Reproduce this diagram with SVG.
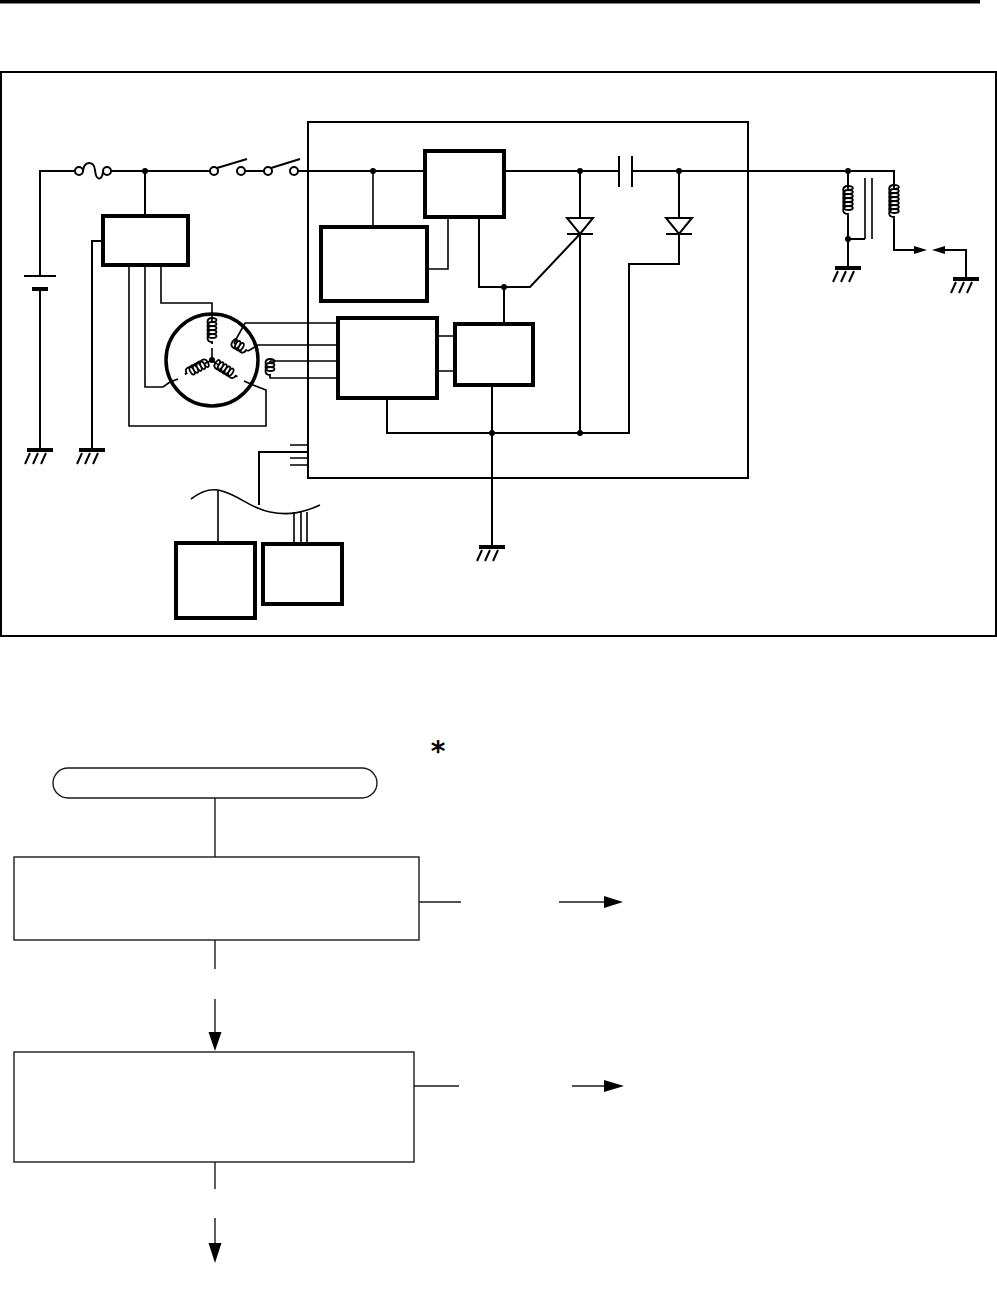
<svg xmlns="http://www.w3.org/2000/svg" xmlns:xlink="http://www.w3.org/1999/xlink" width="997" height="1293" viewBox="0 0 997 1293">
<style>
.w{fill:none;stroke:#000;stroke-width:2;stroke-linecap:butt;stroke-linejoin:miter}
.t{fill:none;stroke:#000;stroke-width:1.6}
.box{fill:#fff;stroke:#000;stroke-width:4}
.frame{fill:none;stroke:#000;stroke-width:2}
.dot{fill:#000}
.coil{fill:none;stroke:#000;stroke-width:1.8}
.fc{fill:#fff;stroke:#1a1a1a;stroke-width:1.4}
.fl{fill:none;stroke:#1a1a1a;stroke-width:1.4}
.ah{fill:#000;stroke:none}
</style>
<defs>
<path id="coilm" d="M0,0 v2 c6,0 6,-4 0,-4 c-6,0 -6,8 0,8 c6,0 6,-4 0,-4 c-6,0 -6,8 0,8 c6,0 6,-4 0,-4 c-6,0 -6,8 0,8 c6,0 6,-4 0,-4 c-6,0 -6,8 0,8 c6,0 6,-4 0,-4 c-6,0 -6,8 0,8 v2"/>
<path id="coils" d="M0,0 v2 c6,0 6,-4 0,-4 c-6,0 -6,8 0,8 c6,0 6,-4 0,-4 c-6,0 -6,8 0,8 c6,0 6,-4 0,-4 c-6,0 -6,8 0,8 v2"/>
<path id="coil6" d="M0,0 v2 c6.5,0 6.5,-4 0,-4 c-6.5,0 -6.5,8 0,8 c6.5,0 6.5,-4 0,-4 c-6.5,0 -6.5,8 0,8 c6.5,0 6.5,-4 0,-4 c-6.5,0 -6.5,8 0,8 c6.5,0 6.5,-4 0,-4 c-6.5,0 -6.5,8 0,8 c6.5,0 6.5,-4 0,-4 c-6.5,0 -6.5,8 0,8 c6.5,0 6.5,-4 0,-4 c-6.5,0 -6.5,8 0,8 v2"/>
<path id="coil7" d="M0,0 v2 c6.5,0 6.5,-4 0,-4 c-6.5,0 -6.5,8 0,8 c6.5,0 6.5,-4 0,-4 c-6.5,0 -6.5,8 0,8 c6.5,0 6.5,-4 0,-4 c-6.5,0 -6.5,8 0,8 c6.5,0 6.5,-4 0,-4 c-6.5,0 -6.5,8 0,8 c6.5,0 6.5,-4 0,-4 c-6.5,0 -6.5,8 0,8 c6.5,0 6.5,-4 0,-4 c-6.5,0 -6.5,8 0,8 c6.5,0 6.5,-4 0,-4 c-6.5,0 -6.5,8 0,8 v2"/>
<g id="gnd">
<line x1="-13" y1="0" x2="13" y2="0" stroke="#000" stroke-width="4"/>
<path d="M-10,3 L-15,14 M-2,3 L-7,14 M6,3 L1,14" fill="none" stroke="#000" stroke-width="2"/>
</g>
</defs>

<rect x="0" y="0" width="980" height="3.5" fill="#000"/>
<rect id="frame" class="frame" x="1" y="72" width="995" height="564"/>

<g id="connectors">
<!-- main supply line -->
<path class="w" d="M40,276 V171 H75"/>
<path class="w" d="M111,171 H210"/>
<path class="w" d="M245,171 H264"/>
<path class="w" d="M298,171 H425"/>
<path class="w" d="M504,171 H619"/>
<path class="w" d="M632,171 H894 V187"/>
<path class="w" d="M40,289 V450"/>
<path class="w" d="M145,171 V216"/>
<path class="w" d="M103,241 H92 V450"/>
<!-- box1 to motor -->
<path class="t" d="M129,265 V426 H266 V390 L253,385 L244,381"/>
<path class="t" d="M145,265 V387 H163 L170,382 L178,379"/>
<path class="t" d="M161,265 V303 H212 V320"/>
<path class="t" d="M212,348 V360 L217,364"/>
<path class="t" d="M212,360 L206,363"/>
<path class="t" d="M338,323 H245 L234,343"/>
<path class="t" d="M248,351 L258,345 H338"/>
<path class="t" d="M338,361 H270"/>
<path class="t" d="M270,377 V378 H338"/>
<!-- inside unit -->
<path class="t" d="M373,171 V227"/>
<path class="t" d="M448,217 V269 H427"/>
<path class="w" d="M479,217 V287 H530 L580,234"/>
<path class="w" d="M504,287 V324"/>
<path class="w" d="M580,171 V218"/>
<path class="w" d="M580,234 V433"/>
<path class="w" d="M679,171 V218"/>
<path class="w" d="M679,234 V264 H629 V433 H387 V398"/>
<path class="t" d="M437,336 H455 M437,371 H455"/>
<path class="w" d="M492,385 V547"/>
<!-- harness connector -->
<path class="t" d="M290,445 H308 M290,458 H308 M290,465 H308"/>
<path class="w" d="M308,452 H259 V505"/>
<path class="t" d="M191,499 C203,490 212,488 222,491 C240,496 250,508 270,512 C290,516 305,512 320,505"/>
<path class="t" d="M218,543 V490"/>
<path class="t" d="M294,512 V544 M301,512 V544 M307,512 V544"/>
<!-- ignition coil -->
<path class="w" d="M848,171 V188"/>
<path class="w" d="M848,216 V268"/>
<path class="w" d="M848,239 H865"/>
<path class="t" d="M865,178 V239 M872,178 V239"/>
<path class="w" d="M894,219 V250 H914"/>
<path class="w" d="M945,250 H966 V279"/>
<!-- flowchart connectors -->
<path class="fl" d="M215,798 V857"/>
<path class="fl" d="M419,902 H461 M559,902 H605"/>
<path class="fl" d="M215,940 V969 M215,999 V1033"/>
<path class="fl" d="M414,1086 H459 M572,1086 H605"/>
<path class="fl" d="M215,1162 V1189 M215,1218 V1244"/>
<path class="ah" d="M604,896 L623,902 L604,908 Z"/>
<path class="ah" d="M604,1080 L624,1086 L604,1092 Z"/>
<path class="ah" d="M208.5,1032 L215,1051 L221.5,1032 Z"/>
<path class="ah" d="M208.5,1243 L215,1263 L221.5,1243 Z"/>
</g>

<g id="battery">
<line x1="24" y1="276" x2="56" y2="276" stroke="#000" stroke-width="2"/>
<line x1="32" y1="289" x2="48" y2="289" stroke="#000" stroke-width="4"/>
</g>
<g id="fuse">
<circle class="w" cx="79" cy="171" r="4" fill="#fff"/>
<circle class="w" cx="107" cy="171" r="4" fill="#fff"/>
<path class="w" d="M83,171 C84,161 94,160 95,170 C96,181 102,181 103,172"/>
</g>
<g id="switches">
<circle class="w" cx="214" cy="171" r="4" fill="#fff"/>
<circle class="w" cx="241" cy="171" r="4" fill="#fff"/>
<circle class="w" cx="268" cy="171" r="4" fill="#fff"/>
<circle class="w" cx="294" cy="171" r="4" fill="#fff"/>
<path class="w" d="M217,168 L247,159 M271,168 L300,159"/>
</g>
<g id="box1"><rect class="box" x="103" y="216" width="85" height="49"/></g>
<g id="motor">
<circle cx="212" cy="360" r="46" fill="none" stroke="#000" stroke-width="3.5"/>
<use href="#coilm" class="coil" transform="translate(212,320)"/>
<use href="#coilm" class="coil" transform="translate(206,363) rotate(62)"/>
<use href="#coilm" class="coil" transform="translate(217,364) rotate(-58)"/>
<use href="#coils" class="coil" transform="translate(234,343) rotate(-60)"/>
<use href="#coils" class="coil" transform="translate(270,361)"/>
</g>
<g id="unit">
<rect class="frame" x="308" y="122" width="440" height="356"/>
</g>
<g id="box2"><rect class="box" x="321" y="227" width="106" height="74"/></g>
<g id="box3"><rect class="box" x="425" y="151" width="79" height="66"/></g>
<g id="box4"><rect class="box" x="338" y="318" width="99" height="80"/></g>
<g id="box5"><rect class="box" x="455" y="324" width="78" height="61"/></g>
<g id="diode1">
<path d="M567,218 H593 L580,234 Z" fill="#fff" stroke="#000" stroke-width="2"/>
<line x1="567" y1="234" x2="593" y2="234" stroke="#000" stroke-width="2"/>
</g>
<g id="diode2">
<path d="M666,218 H692 L679,234 Z" fill="#fff" stroke="#000" stroke-width="2"/>
<line x1="666" y1="234" x2="692" y2="234" stroke="#000" stroke-width="2"/>
</g>
<g id="capacitor">
<path class="w" d="M619,156 V187 M632,156 V187"/>
</g>
<g id="box6"><rect class="box" x="176" y="543" width="79" height="75"/></g>
<g id="box7"><rect class="box" x="263" y="544" width="79" height="60"/></g>
<g id="ignition">
<use href="#coil6" class="coil" transform="translate(848,188)"/>
<use href="#coil7" class="coil" transform="translate(894,187)"/>
<path class="ah" d="M914,246 L927,250 L914,254 Z"/>
<path class="ah" d="M945,246 L932,250 L945,254 Z"/>
</g>
<g id="grounds">
<use href="#gnd" transform="translate(40,450)"/>
<use href="#gnd" transform="translate(92,450)"/>
<use href="#gnd" transform="translate(492,547)"/>
<use href="#gnd" transform="translate(848,268)"/>
<use href="#gnd" transform="translate(966,279)"/>
</g>
<g id="dots">
<circle class="dot" cx="145" cy="171" r="3"/>
<circle class="dot" cx="212" cy="360" r="3"/>
<circle class="dot" cx="373" cy="171" r="3"/>
<circle class="dot" cx="580" cy="171" r="3"/>
<circle class="dot" cx="679" cy="171" r="3"/>
<circle class="dot" cx="504" cy="287" r="3"/>
<circle class="dot" cx="492" cy="433" r="3"/>
<circle class="dot" cx="580" cy="433" r="3"/>
<circle class="dot" cx="848" cy="171" r="3"/>
<circle class="dot" cx="848" cy="239" r="3"/>
</g>

<g id="flow-start"><rect class="fc" x="53" y="768" width="324" height="30" rx="15" ry="15"/></g>
<g id="flow-step1"><rect class="fc" x="14" y="857" width="405" height="83"/></g>
<g id="flow-step2"><rect class="fc" x="14" y="1052" width="400" height="110"/></g>
<text x="438" y="761" font-family="'DejaVu Sans', sans-serif" font-size="28" font-weight="bold" text-anchor="middle" fill="#000">*</text>
</svg>
